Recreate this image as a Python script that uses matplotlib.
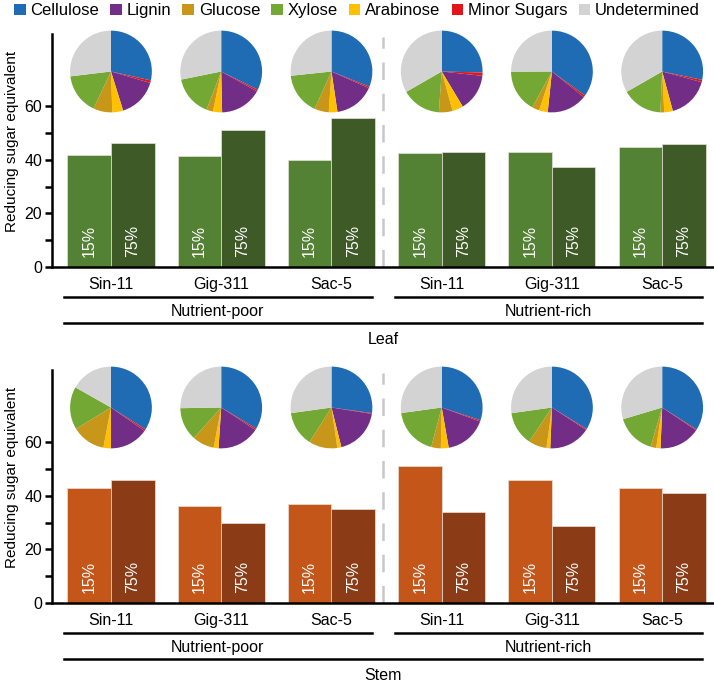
# Reducing sugar release and cell wall composition, leaf vs stem

import matplotlib
matplotlib.use("Agg")
import matplotlib.pyplot as plt
from matplotlib.patches import Patch
from matplotlib.transforms import blended_transform_factory

plt.rcParams["font.family"] = ["Liberation Sans", "DejaVu Sans"]

# 1. DATA
strains = ["Sin-11", "Gig-311", "Sac-5", "Sin-11", "Gig-311", "Sac-5"]
treatments = ["Nutrient-poor", "Nutrient-rich"]
levels = ["15%", "75%"]

leaf_15 = [42.0, 41.4, 40.0, 42.6, 42.9, 44.9]
leaf_75 = [46.4, 51.2, 55.5, 43.1, 37.4, 46.1]
stem_15 = [42.9, 36.2, 36.9, 51.0, 45.8, 43.0]
stem_75 = [46.1, 29.7, 35.2, 33.8, 28.7, 40.9]

components = ["Cellulose", "Lignin", "Glucose", "Xylose", "Arabinose",
              "Minor Sugars", "Undetermined"]
comp_colors = ["#1f6cb5", "#722e87", "#c8971a", "#72a833", "#ffc000",
               "#e3151c", "#d3d3d3"]

# composition (%) per group, in legend order
leaf_pies = [
    [28.5, 15.7, 7.5, 16.1, 4.3, 1.0, 26.9],
    [32.4, 16.6, 2.6, 16.0, 3.6, 0.7, 28.2],
    [31.1, 16.0, 5.7, 16.6, 3.4, 0.6, 26.7],
    [25.4, 14.7, 5.4, 15.6, 4.3, 1.3, 33.3],
    [34.9, 15.8, 2.9, 16.9, 3.4, 0.8, 25.0],
    [28.3, 16.6, 1.5, 16.0, 3.4, 0.9, 33.3],
]
stem_pies = [
    [34.0, 15.3, 13.3, 16.9, 3.0, 0.7, 16.8],
    [33.7, 16.8, 8.7, 13.1, 1.9, 0.6, 25.3],
    [27.2, 18.6, 11.3, 13.8, 1.6, 0.3, 27.2],
    [30.1, 16.7, 3.8, 18.7, 3.1, 0.5, 27.2],
    [33.8, 16.4, 7.2, 13.4, 1.5, 0.4, 27.2],
    [34.0, 16.2, 2.2, 15.8, 1.7, 0.4, 29.6],
]
# clockwise from the top the slices go in this order
pie_order = [0, 5, 1, 4, 2, 3, 6]

W, H = 714, 685
fig = plt.figure(figsize=(W / 100, H / 100), dpi=100)


# 2. ONE PANEL (bars + pies + bracket labels)
def panel(top_px, v15, v75, pies, c15, c75, tissue):
    ax = fig.add_axes([52 / W, 1 - (top_px + 233) / H, 662 / W, 233 / H])
    x = list(range(len(strains)))
    bw = 0.395
    ax.bar([i - bw / 2 for i in x], v15, width=bw, color=c15,
           edgecolor="#e8e0d8", linewidth=0.5)
    ax.bar([i + bw / 2 for i in x], v75, width=bw, color=c75,
           edgecolor="#e8e0d8", linewidth=0.5)
    for i in x:
        ax.text(i - bw / 2, 3.8, levels[0], rotation=90, color="white",
                ha="center", va="bottom", fontsize=11.5)
        ax.text(i + bw / 2, 3.8, levels[1], rotation=90, color="white",
                ha="center", va="bottom", fontsize=11.5)

    ax.set_xlim(-0.535, 5.47)
    ax.set_ylim(0, 87)
    ax.set_yticks([0, 20, 40, 60])
    ax.set_yticks([10, 30, 50], minor=True)
    ax.tick_params(axis="y", which="both", length=5, width=1.8,
                   labelsize=11.5, pad=2)
    ax.set_xticks(x)
    ax.set_xticklabels(strains, fontsize=11.5)
    ax.tick_params(axis="x", length=0, pad=7)
    for s in ["top", "right"]:
        ax.spines[s].set_visible(False)
    for s in ["left", "bottom"]:
        ax.spines[s].set_linewidth(1.8)
    ax.set_ylabel("Reducing sugar equivalent", fontsize=11)
    ax.yaxis.set_label_coords(-0.05, 0.54)

    # dashed separator between treatments
    ax.plot([2.47, 2.47], [0, 86], color="#c8c8c8", lw=1.8,
            dashes=(7, 5.5), zorder=0)

    # bracket lines and labels under the axis
    tr = blended_transform_factory(ax.transData, ax.transAxes)
    ax.plot([-0.43, 2.37], [-0.128, -0.128], color="black", lw=1.8,
            transform=tr, clip_on=False)
    ax.plot([2.58, 5.36], [-0.128, -0.128], color="black", lw=1.8,
            transform=tr, clip_on=False)
    ax.plot([-0.43, 5.36], [-0.24, -0.24], color="black", lw=1.8,
            transform=tr, clip_on=False)
    ax.text(0.97, -0.19, treatments[0], transform=tr, ha="center",
            va="center", fontsize=11.5)
    ax.text(3.97, -0.19, treatments[1], transform=tr, ha="center",
            va="center", fontsize=11.5)
    ax.text(2.47, -0.31, tissue, transform=tr, ha="center", va="center",
            fontsize=11.5)

    # pies above each pair of bars
    r = 41.7
    inv = fig.transFigure.inverted()
    for i, comp in enumerate(pies):
        cx, cy = ax.transData.transform((i, 73))
        (x0, y0) = inv.transform((cx - r, cy - r))
        (x1, y1) = inv.transform((cx + r, cy + r))
        pax = fig.add_axes([x0, y0, x1 - x0, y1 - y0])
        pax.pie([comp[k] for k in pie_order],
                colors=[comp_colors[k] for k in pie_order],
                startangle=90, counterclock=False,
                wedgeprops={"linewidth": 0})
        pax.set_xlim(-1.02, 1.02)
        pax.set_ylim(-1.02, 1.02)
        pax.set_aspect("equal")
        pax.axis("off")
    return ax


# 3. DRAW BOTH PANELS
panel(34, leaf_15, leaf_75, leaf_pies, "#548235", "#3e5a26", "Leaf")
panel(370, stem_15, stem_75, stem_pies, "#c5561a", "#8b3c17", "Stem")

# 4. LEGEND
handles = [Patch(facecolor=c, edgecolor="none") for c in comp_colors]
fig.legend(handles, components, loc="upper center", bbox_to_anchor=(0.5, 1.0),
           ncol=7, frameon=False, fontsize=12, handlelength=0.7,
           handleheight=0.7, handletextpad=0.3, columnspacing=0.65,
           borderaxespad=0.1, borderpad=0.1)

fig.savefig("out.png", dpi=100)
